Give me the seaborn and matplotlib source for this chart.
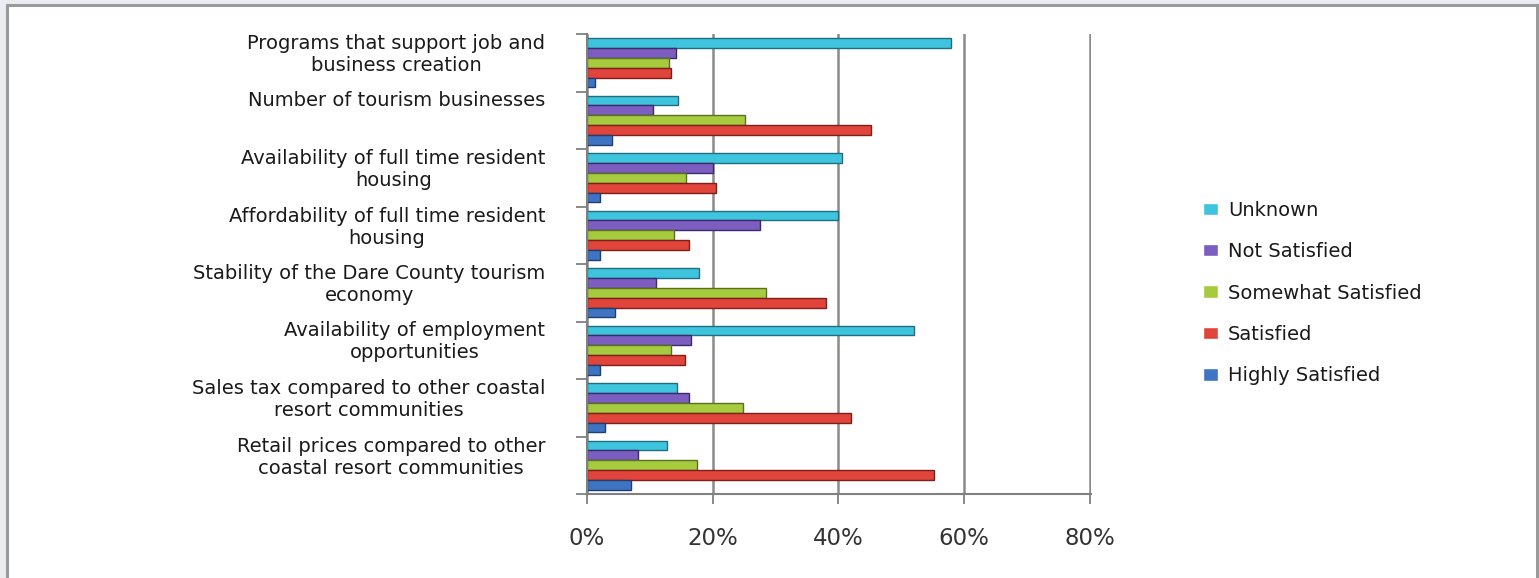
import matplotlib

matplotlib.use("Agg")
import matplotlib.pyplot as plt
import numpy as np
import pandas as pd
import seaborn as sns
from matplotlib.patches import Rectangle
from matplotlib.ticker import PercentFormatter

# survey items, top to bottom as in the chart
ITEMS = [
    "Programs that support job and\nbusiness creation",
    "Number of tourism businesses",
    "Availability of full time resident\nhousing",
    "Affordability of full time resident\nhousing",
    "Stability of the Dare County tourism\neconomy",
    "Availability of employment\nopportunities",
    "Sales tax compared to other coastal\nresort communities",
    "Retail prices compared to other\ncoastal resort communities",
]

# share of responses per item (fractions)
unknown = [0.58, 0.145, 0.405, 0.40, 0.178, 0.52, 0.143, 0.127]
not_satisfied = [0.142, 0.105, 0.201, 0.275, 0.11, 0.165, 0.163, 0.081]
somewhat_satisfied = [0.13, 0.252, 0.158, 0.138, 0.285, 0.134, 0.248, 0.175]
satisfied = [0.134, 0.452, 0.206, 0.162, 0.38, 0.156, 0.42, 0.552]
highly_satisfied = [0.012, 0.04, 0.02, 0.02, 0.045, 0.02, 0.029, 0.07]

SERIES = ["Unknown", "Not Satisfied", "Somewhat Satisfied", "Satisfied", "Highly Satisfied"]
COLORS = ["#3fc4de", "#7b5ec0", "#a6cb3e", "#e0443a", "#3f74c2"]
EDGES = ["#1f6f80", "#3e2a6a", "#5a7220", "#7e1f1a", "#1f3f70"]

values = [unknown, not_satisfied, somewhat_satisfied, satisfied, highly_satisfied]
df = pd.DataFrame(
    [(item, name, v) for name, vals in zip(SERIES, values) for item, v in zip(ITEMS, vals)],
    columns=["item", "rating", "share"],
)

sns.set_style("white")
plt.rcParams["font.family"] = ["DejaVu Sans"]

fig = plt.figure(figsize=(15.39, 5.78), dpi=100, facecolor="#eaecef")
fig.patches.append(
    Rectangle((7 / 1539, -0.02), 1530 / 1539, 1.02 - 5 / 578, transform=fig.transFigure,
              facecolor="white", edgecolor="#9a9a9a", lw=2.2, zorder=-10)
)
ax = fig.add_axes([587 / 1539, 1 - 494 / 578, 504 / 1539, 460 / 578])
ax.set_facecolor("none")

sns.barplot(data=df, x="share", y="item", hue="rating", order=ITEMS, hue_order=SERIES,
            palette=COLORS, saturation=1, orient="h", width=0.86, ax=ax, legend=True)
for container, edge in zip(ax.containers, EDGES):
    for bar in container:
        bar.set_edgecolor(edge)
        bar.set_linewidth(1.0)

ax.set_xlim(0, 0.802)
ax.set_ylim(len(ITEMS) - 0.5, -0.5)
ax.set_xticks([0, 0.2, 0.4, 0.6, 0.8])
ax.xaxis.set_major_formatter(PercentFormatter(1.0, decimals=0))
ax.set_xlabel("")
ax.set_ylabel("")

# category ticks sit on group boundaries, labels hang from the top of each group
ax.set_yticks(np.arange(-0.5, len(ITEMS)), labels=ITEMS + [""])
for lbl in ax.get_yticklabels():
    lbl.set_verticalalignment("top")
    lbl.set_multialignment("center")
ax.tick_params(axis="y", length=8, width=1.3, color="#808080", pad=22, labelsize=14, labelcolor="#1a1a1a")
ax.tick_params(axis="x", length=7, width=1.3, color="#808080", pad=17, labelsize=16.5, labelcolor="#333333")
ax.tick_params(left=True, bottom=True)

ax.xaxis.grid(True, color="#8a8a8a", lw=1.8)
ax.set_axisbelow(True)
sns.despine(ax=ax, top=True, right=True)
for side in ["left", "bottom"]:
    ax.spines[side].set_color("#808080")
    ax.spines[side].set_linewidth(1.5)

handles, labels = ax.get_legend_handles_labels()
ax.get_legend().remove()
fig.legend(handles, labels, loc="center left", bbox_to_anchor=(1185 / 1539, 1 - 293 / 578),
           frameon=False, fontsize=14, labelspacing=1.15, handlelength=0.8, handleheight=0.6,
           handletextpad=0.5, labelcolor="#1a1a1a")

fig.savefig("out.png", dpi=100, facecolor=fig.get_facecolor())
